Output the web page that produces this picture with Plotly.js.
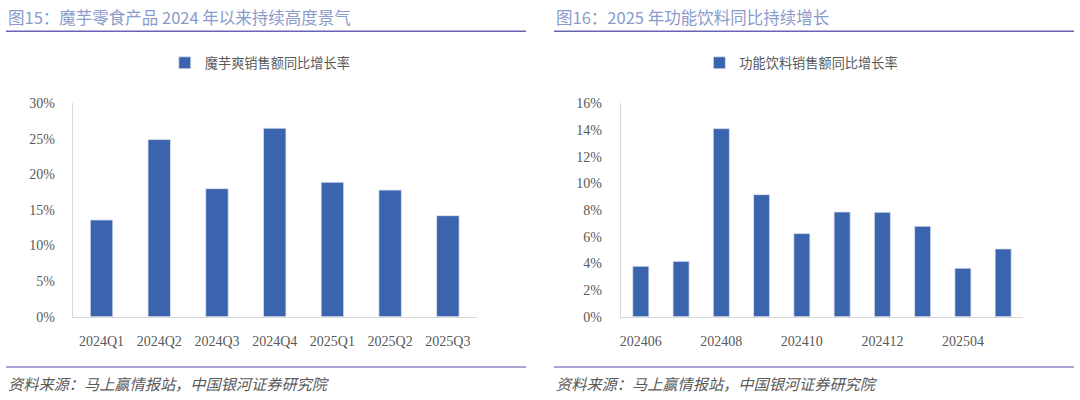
<!DOCTYPE html>
<html>
<head>
<meta charset="utf-8">
<script src="https://cdn.plot.ly/plotly-3.0.1.min.js"></script>
<style>html,body{margin:0;padding:0;background:#fff;}#chart{width:1080px;height:400px;}</style>
</head>
<body>
<div id="chart"></div>
<script>
// Left chart: 魔芋爽
const konjacQuarters = ['2024Q1','2024Q2','2024Q3','2024Q4','2025Q1','2025Q2','2025Q3'];
const konjacGrowth = [13.6, 24.9, 18.0, 26.5, 18.9, 17.8, 14.2];
const konjacTicks = ['0%','5%','10%','15%','20%','25%','30%'];
const konjacTickVals = [0,5,10,15,20,25,30];

// Right chart: 功能饮料
const drinkMonths = ['202406','202407','202408','202409','202410','202411','202412','202503','202504','202505'];
const drinkGrowth = [3.78, 4.15, 14.1, 9.15, 6.23, 7.85, 7.83, 6.78, 3.63, 5.08];
const drinkShownLabels = ['202406','202408','202410','202412','202504'];
const drinkTicks = ['0%','2%','4%','6%','8%','10%','12%','14%','16%'];
const drinkTickVals = [0,2,4,6,8,10,12,14,16];

const titleLeft = '图15：魔芋零食产品 2024 年以来持续高度景气';
const titleRight = '图16：2025 年功能饮料同比持续增长';
const legendLeft = '魔芋爽销售额同比增长率';
const legendRight = '功能饮料销售额同比增长率';
const sourceText = '资料来源：马上赢情报站，中国银河证券研究院';

const BAR = '#3A64AD';
const SERIF = '"Liberation Serif","Noto Sans CJK SC",serif';
const CJK = '"Noto Sans CJK SC","Liberation Serif",sans-serif';
const TICKC = '#595959';

const traces = [
  {type:'bar', x:konjacQuarters, y:konjacGrowth, name:legendLeft, xaxis:'x', yaxis:'y',
   marker:{color:BAR, line:{color:'#dfe6f3', width:0.8}}, width:0.39, legend:'legend', hoverinfo:'x+y'},
  {type:'bar', x:drinkMonths, y:drinkGrowth, name:legendRight, xaxis:'x2', yaxis:'y2',
   marker:{color:BAR, line:{color:'#dfe6f3', width:0.8}}, width:0.40, legend:'legend2', hoverinfo:'x+y'}
];

const axisCommon = {
  showgrid:false, zeroline:false, showline:true, linecolor:'#D9D9D9', linewidth:1,
  ticks:'', tickfont:{family:SERIF, size:14, color:TICKC}, fixedrange:true
};

const layout = {
  width:1080, height:400,
  margin:{l:0,r:0,t:0,b:0},
  paper_bgcolor:'#ffffff', plot_bgcolor:'#ffffff',
  showlegend:true,
  bargap:0.6,
  xaxis:Object.assign({}, axisCommon, {domain:[0.0673,0.4414], anchor:'y', type:'category', ticklabelstandoff:12}),
  yaxis:Object.assign({}, axisCommon, {domain:[0.2083,0.7418], anchor:'x', range:[0,30],
        tickvals:konjacTickVals, ticktext:konjacTicks, ticklabelstandoff:14}),
  xaxis2:Object.assign({}, axisCommon, {domain:[0.5747,0.9475], anchor:'y2', type:'category',
        tickvals:drinkShownLabels, ticktext:drinkShownLabels, categoryorder:'array', categoryarray:drinkMonths, ticklabelstandoff:12}),
  yaxis2:Object.assign({}, axisCommon, {domain:[0.2083,0.7418], anchor:'x2', range:[0,16],
        tickvals:drinkTickVals, ticktext:drinkTicks, ticklabelstandoff:15}),
  legend:{x:0.241, y:0.842, xanchor:'center', yanchor:'middle', orientation:'h',
          font:{family:CJK, size:13.2, color:TICKC}, bgcolor:'rgba(0,0,0,0)', itemwidth:30},
  legend2:{x:0.742, y:0.842, xanchor:'center', yanchor:'middle', orientation:'h',
          font:{family:CJK, size:13.2, color:TICKC}, bgcolor:'rgba(0,0,0,0)', itemwidth:30},
  shapes:[
    {type:'line', xref:'paper', yref:'paper', x0:6/1080, x1:526/1080, y0:1-31.3/400, y1:1-31.3/400, line:{color:'#6A62B4', width:1.5}},
    {type:'line', xref:'paper', yref:'paper', x0:554/1080, x1:1074/1080, y0:1-31.3/400, y1:1-31.3/400, line:{color:'#6A62B4', width:1.5}},
    {type:'line', xref:'paper', yref:'paper', x0:6/1080, x1:526/1080, y0:1-367/400, y1:1-367/400, line:{color:'#A9A4D8', width:2}},
    {type:'line', xref:'paper', yref:'paper', x0:554/1080, x1:1074/1080, y0:1-367/400, y1:1-367/400, line:{color:'#A9A4D8', width:2}}
  ],
  annotations:[
    {text:titleLeft, xref:'paper', yref:'paper', x:6/1080, y:1-17/400, xanchor:'left', yanchor:'middle', showarrow:false,
     font:{family:CJK, size:16.5, color:'#8A9BCB'}},
    {text:titleRight, xref:'paper', yref:'paper', x:554/1080, y:1-17/400, xanchor:'left', yanchor:'middle', showarrow:false,
     font:{family:CJK, size:16.5, color:'#8A9BCB'}},
    {text:'<i>'+sourceText+'</i>', xref:'paper', yref:'paper', x:6/1080, y:1-383/400, xanchor:'left', yanchor:'middle', showarrow:false,
     font:{family:CJK, size:15.2, color:'#595959'}},
    {text:'<i>'+sourceText+'</i>', xref:'paper', yref:'paper', x:554/1080, y:1-383/400, xanchor:'left', yanchor:'middle', showarrow:false,
     font:{family:CJK, size:15.2, color:'#595959'}}
  ]
};

Plotly.newPlot('chart', traces, layout, {displayModeBar:false, staticPlot:true});
</script>
</body>
</html>
